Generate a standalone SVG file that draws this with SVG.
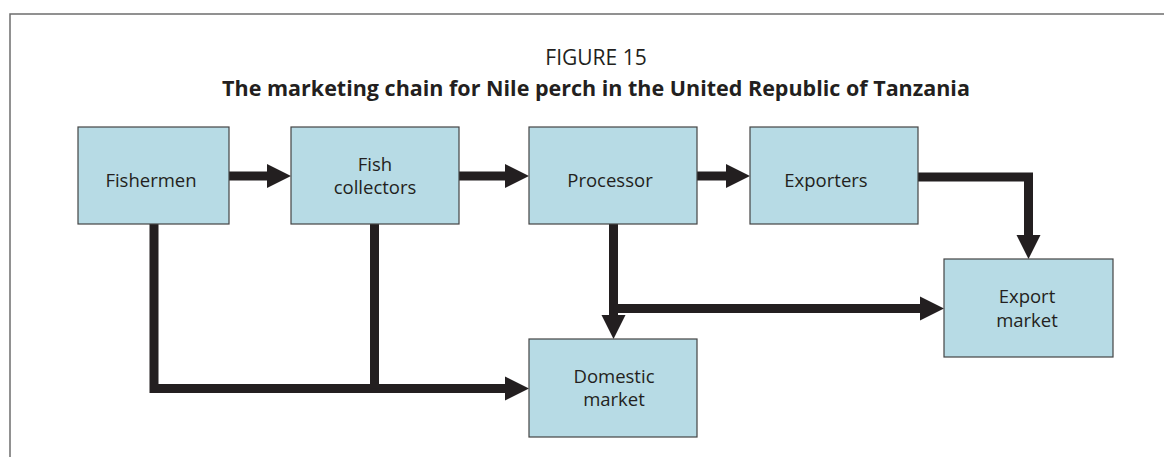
<svg xmlns="http://www.w3.org/2000/svg" width="1164" height="457" viewBox="0 0 1164 457">
<style>
  .box { fill: #b7dbe5; stroke: #444; stroke-width: 1.2; }
  .lbl { font-family: "Open Sans", "Liberation Sans", sans-serif; font-size: 18.5px; fill: #231f20; text-anchor: middle; }
  .cap { font-family: "Open Sans", "Liberation Sans", sans-serif; fill: #231f20; text-anchor: middle; }
  .conn { fill: none; stroke: #231f20; stroke-width: 9; stroke-linejoin: miter; stroke-linecap: butt; }
  .frame { fill: none; stroke: #6d6d6d; stroke-width: 1.5; }
</style>
<defs>
  <marker id="ah" markerUnits="userSpaceOnUse" markerWidth="24" markerHeight="24" refX="0" refY="12" orient="auto" overflow="visible">
    <path d="M0,0 L24,12 L0,24 Z" fill="#231f20"/>
  </marker>
</defs>
<rect width="1164" height="457" fill="#ffffff"/>
<path class="frame" d="M10,457 L10,14 L1164,14"/>
<text class="cap" x="596" y="65" font-size="21">FIGURE 15</text>
<text class="cap" x="596" y="96" font-size="21.5" font-weight="bold">The marketing chain for Nile perch in the United Republic of Tanzania</text>

<g id="connectors">
  <path class="conn" d="M229,176 L267,176" marker-end="url(#ah)"/>
  <path class="conn" d="M459,176 L505,176" marker-end="url(#ah)"/>
  <path class="conn" d="M697,176 L726,176" marker-end="url(#ah)"/>
  <path class="conn" d="M918,177 L1028.5,177 L1028.5,235" marker-end="url(#ah)"/>
  <path class="conn" d="M613.5,224 L613.5,315" marker-end="url(#ah)"/>
  <path class="conn" d="M613.5,308.5 L920,308.5" marker-end="url(#ah)"/>
  <path class="conn" d="M154,224 L154,388.5 L505,388.5" marker-end="url(#ah)"/>
  <path class="conn" d="M374.5,224 L374.5,388.5"/>
</g>

<g id="fishermen">
  <rect class="box" x="78" y="127" width="151" height="97"/>
  <text class="lbl" x="151" y="187">Fishermen</text>
</g>
<g id="fish-collectors">
  <rect class="box" x="291" y="127" width="168" height="97"/>
  <text class="lbl" x="375" y="171">Fish</text>
  <text class="lbl" x="375" y="194">collectors</text>
</g>
<g id="processor">
  <rect class="box" x="529" y="127" width="168" height="97"/>
  <text class="lbl" x="610" y="187">Processor</text>
</g>
<g id="exporters">
  <rect class="box" x="750" y="127" width="168" height="97"/>
  <text class="lbl" x="826" y="187">Exporters</text>
</g>
<g id="export-market">
  <rect class="box" x="944" y="259" width="169" height="98"/>
  <text class="lbl" x="1027" y="303">Export</text>
  <text class="lbl" x="1027" y="327">market</text>
</g>
<g id="domestic-market">
  <rect class="box" x="529" y="339" width="168" height="98"/>
  <text class="lbl" x="614" y="383">Domestic</text>
  <text class="lbl" x="614" y="406">market</text>
</g>
</svg>
